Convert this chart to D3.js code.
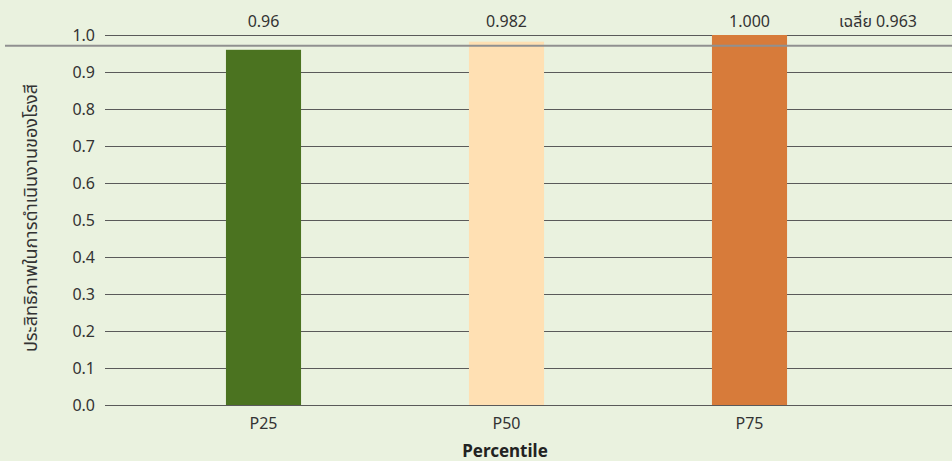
<!DOCTYPE html>
<html>
<head>
    <meta charset="utf-8">
    <title></title>
    <style>
        body { margin: 0; background: #eaf2df; }
        svg text { font-family: "Noto Sans", "Noto Sans Thai", "DejaVu Sans", sans-serif; fill: #333; }
    </style>
</head>
<body>
<script src="https://d3js.org/d3.v7.min.js"></script>
<script type="text/javascript">

    var categories = ['P25', 'P50', 'P75'];
    var values = [0.96, 0.982, 1.0];
    var valueLabels = ['0.96', '0.982', '1.000'];
    var barColors = ['#4b7320', '#ffe0b3', '#d77b3a'];
    var yTicks = [0, 0.1, 0.2, 0.3, 0.4, 0.5, 0.6, 0.7, 0.8, 0.9, 1.0];
    var average = 0.963;
    var averageLabel = 'เฉลี่ย 0.963';

    var width = 952, height = 461;

    var x = d3.scaleBand()
                .domain(categories)
                .range([142, 871])
                .paddingInner(0.691)
                .paddingOuter(0.3455);

    var y = d3.scaleLinear()
                .domain([0, 1])
                .range([405, 35]);

    var svg = d3.select('body')
                .append('svg')
                    .attr('width', width)
                    .attr('height', height);

    svg.append('rect')
        .attr('width', width)
        .attr('height', height)
        .attr('fill', '#eaf2df');

    // gridlines + tick labels
    var yAxis = d3.axisLeft(y)
                    .tickValues(yTicks)
                    .tickFormat(d3.format('.1f'))
                    .tickSize(-(width - 105))
                    .tickPadding(10);

    var gy = svg.append('g')
                .attr('transform', 'translate(105,0)')
                .call(yAxis);
    gy.select('.domain').remove();
    gy.selectAll('line').attr('stroke', '#5a5a5a').attr('stroke-width', 1);
    gy.selectAll('text')
        .attr('font-size', 16)
        .attr('x', -10)
        .style('fill', '#333');

    // bars
    svg.selectAll('rect.bar')
        .data(values)
        .enter()
        .append('rect')
            .attr('class', 'bar')
            .attr('x', function(d, i) { return x(categories[i]); })
            .attr('y', function(d) { return y(d); })
            .attr('width', x.bandwidth())
            .attr('height', function(d) { return y(0) - y(d); })
            .attr('fill', function(d, i) { return barColors[i]; });

    // value labels above plot
    svg.selectAll('text.val')
        .data(valueLabels)
        .enter()
        .append('text')
            .attr('class', 'val')
            .attr('x', function(d, i) { return x(categories[i]) + x.bandwidth() / 2; })
            .attr('y', 27)
            .attr('text-anchor', 'middle')
            .attr('font-size', 16)
            .text(function(d) { return d; });

    // average line
    svg.append('line')
        .attr('x1', 5)
        .attr('x2', width)
        .attr('y1', y(average) - 3)
        .attr('y2', y(average) - 3)
        .attr('stroke', '#909090')
        .attr('stroke-width', 2);

    svg.append('text')
        .attr('x', 878)
        .attr('y', 27)
        .attr('text-anchor', 'middle')
        .attr('font-size', 16)
        .text(averageLabel);

    // x axis labels
    var gx = svg.append('g')
                .attr('transform', 'translate(0,405)')
                .call(d3.axisBottom(x).tickSize(0).tickPadding(13));
    gx.select('.domain').remove();
    gx.selectAll('text').attr('font-size', 16).style('fill', '#333');

    svg.append('text')
        .attr('x', 505)
        .attr('y', 457)
        .attr('text-anchor', 'middle')
        .attr('font-size', 17)
        .attr('font-weight', 'bold')
        .style('fill', '#222')
        .text('Percentile');

    svg.append('text')
        .attr('transform', 'translate(37,218) rotate(-90)')
        .attr('text-anchor', 'middle')
        .attr('font-size', 18)
        .text('ประสิทธิภาพในการดำเนินงานของโรงสี');

</script>
</body>
</html>
